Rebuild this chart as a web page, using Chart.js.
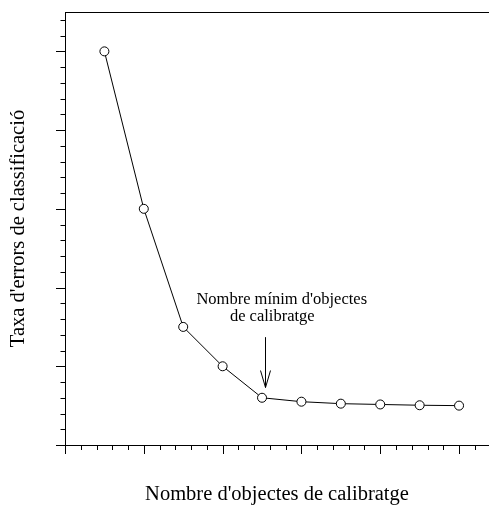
<!DOCTYPE html>
<html>
<head>
<meta charset="utf-8">
<script src="https://cdn.jsdelivr.net/npm/chart.js@4.4.0/dist/chart.umd.min.js"></script>
<style>
  html, body { margin: 0; padding: 0; background: #fff; overflow: hidden; }
  #wrap { width: 489px; height: 507px; position: relative; }
  canvas { display: block; }
</style>
</head>
<body>
<div id="wrap"><canvas id="chart-1"></canvas></div>
<script>
// data
const objectCounts = [0.5, 1, 1.5, 2, 2.5, 3, 3.5, 4, 4.5, 5];
const errorRates = [5.0, 3.0, 1.5, 1.0, 0.6, 0.55, 0.525, 0.515, 0.505, 0.5];
const xTitle = "Nombre d'objectes de calibratge";
const yTitle = "Taxa d'errors de classificació";
const noteLines = ["Nombre mínim d'objectes", "de calibratge"];

const serif = "'Liberation Serif', 'Times New Roman', serif";

// minor + major ticks, top frame line, and the arrow note
const decorations = {
    id: 'decorations',
    afterDraw(chart) {
        const ctx = chart.ctx;
        const xs = chart.scales.x, ys = chart.scales.y;
        const area = chart.chartArea;
        ctx.save();
        ctx.strokeStyle = '#000';
        ctx.lineWidth = 1;
        ctx.beginPath();
        // top line
        ctx.moveTo(area.left, area.top + 0.5);
        ctx.lineTo(area.right, area.top + 0.5);
        // y ticks
        for (let i = 0; i <= 27; i++) {
            const v = i * 0.2;
            const py = Math.round(ys.getPixelForValue(v)) + 0.5;
            const len = i % 5 === 0 ? 9 : 4.5;
            ctx.moveTo(area.left - len, py);
            ctx.lineTo(area.left, py);
        }
        // x ticks
        for (let i = 0; i <= 26; i++) {
            const v = i * 0.2;
            const px = Math.round(xs.getPixelForValue(v)) + 0.5;
            const len = i % 5 === 0 ? 9 : 5;
            ctx.moveTo(px, area.bottom);
            ctx.lineTo(px, area.bottom + len);
        }
        ctx.stroke();

        // annotation arrow
        const ax = Math.round(xs.getPixelForValue(2.54)) + 0.5;
        const aTop = ys.getPixelForValue(1.37);
        const aTip = ys.getPixelForValue(0.73);
        ctx.beginPath();
        ctx.moveTo(ax, aTop);
        ctx.lineTo(ax, aTip);
        ctx.moveTo(ax - 5, aTip - 17);
        ctx.lineTo(ax, aTip);
        ctx.lineTo(ax + 5, aTip - 17);
        ctx.stroke();

        ctx.fillStyle = '#000';
        ctx.font = '16.5px ' + serif;
        ctx.textAlign = 'center';
        ctx.textBaseline = 'alphabetic';
        ctx.fillText(noteLines[0], xs.getPixelForValue(2.75), ys.getPixelForValue(1.785));
        ctx.fillText(noteLines[1], xs.getPixelForValue(2.63), ys.getPixelForValue(1.57));
        ctx.restore();
    }
};

const ctx = document.getElementById('chart-1').getContext('2d');
const myChart = new Chart(ctx, {
    type: 'scatter',
    data: {
        datasets: [{
            data: objectCounts.map((x, i) => ({ x: x, y: errorRates[i] })),
            showLine: true,
            borderColor: '#000',
            borderWidth: 1,
            pointRadius: 4.5,
            pointBackgroundColor: '#fff',
            pointBorderColor: '#000',
            pointBorderWidth: 1
        }]
    },
    options: {
        responsive: true,
        maintainAspectRatio: false,
        animation: false,
        layout: { autoPadding: false, padding: { top: 12, left: 0, right: 0, bottom: 0 } },
        plugins: {
            legend: { display: false },
            tooltip: { enabled: false }
        },
        scales: {
            x: {
                type: 'linear',
                min: 0,
                max: 5.38,
                grid: { display: false },
                border: { display: true, color: '#000', width: 1 },
                ticks: { display: false },
                title: {
                    display: true,
                    text: xTitle,
                    color: '#000',
                    font: { family: serif, size: 20.5 },
                    padding: { top: 0, bottom: 0 }
                },
                afterFit(scale) { scale.height = 62; }
            },
            y: {
                type: 'linear',
                min: 0,
                max: 5.5,
                grid: { display: false },
                border: { display: true, color: '#000', width: 1 },
                ticks: { display: false },
                title: {
                    display: true,
                    text: yTitle,
                    color: '#000',
                    font: { family: serif, size: 20.5 },
                    padding: { top: 6, bottom: 0 }
                },
                afterFit(scale) { scale.width = 65; }
            }
        }
    },
    plugins: [decorations]
});
</script>
</body>
</html>
